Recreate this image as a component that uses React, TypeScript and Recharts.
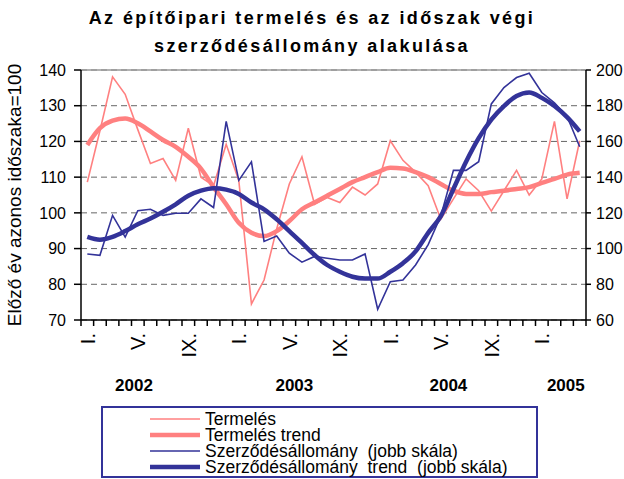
import React from 'react';
import { LineChart, Line, XAxis, YAxis, CartesianGrid, ReferenceLine } from 'recharts';

// 2002. I. – 2005. IV., havi adatok
const months = [
  'I.', 'II.', 'III.', 'IV.', 'V.', 'VI.', 'VII.', 'VIII.', 'IX.', 'X.', 'XI.', 'XII.',
  'I.', 'II.', 'III.', 'IV.', 'V.', 'VI.', 'VII.', 'VIII.', 'IX.', 'X.', 'XI.', 'XII.',
  'I.', 'II.', 'III.', 'IV.', 'V.', 'VI.', 'VII.', 'VIII.', 'IX.', 'X.', 'XI.', 'XII.',
  'I.', 'II.', 'III.', 'IV.',
];
const shownMonths = ['I.', 'V.', 'IX.'];
const yearLabels = ['2002', '2003', '2004', '2005'];
const yearTicks = [4.2, 16.9, 29.1, 38.4];

const termeles = [
  108.6, 123, 138.1, 133.2, 123.3, 113.8, 115.2, 109.1, 123.7, 110,
  107.6, 119.2, 109, 74.5, 81.2, 95.5, 108.1, 115.7, 102.4, 104.3,
  102.9, 107.2, 105, 108.1, 120.2, 114.7, 111.4, 107.6, 98.2, 103.9,
  109.5, 106.2, 100.5, 106.2, 111.9, 105, 109.5, 125.6, 103.9, 120.2,
];
const termelesTrend = [
  119, 123.7, 125.8, 126.4, 125.1, 122.8, 120.4, 118.5, 115.7, 112.4,
  107.2, 102.4, 97.2, 94.4, 93.5, 94.9, 97.7, 101, 102.9, 104.8,
  106.7, 108.6, 110, 111.4, 112.6, 112.4, 111.4, 110, 108.1, 106.2,
  105.3, 105.3, 105.8, 106.2, 106.7, 107.2, 108.4, 109.5, 110.7, 111.2,
];
const szerzodes = [
  97, 96.2, 118.6, 106.4, 121.2, 122, 118.6, 119.8, 119.8, 127.8,
  123, 171.2, 138.2, 148.6, 104, 107, 97.4, 92.4, 95.6, 94.6,
  93.6, 93.6, 97, 66, 81.4, 82.4, 90.8, 102.2, 118.2, 143.8,
  143.8, 148.6, 181, 190.2, 195.8, 198.2, 187.4, 181.6, 174, 157,
];
const szerzodesTrend = [
  106.6, 105, 106.6, 109.8, 113.6, 116.8, 120.6, 124.8, 129.6, 132.4,
  133.8, 133, 130.6, 125.8, 122, 116.4, 109.8, 103.2, 96.4, 90.8,
  87, 84.2, 83.2, 83.2, 87, 91.8, 98.4, 108.8, 118.2, 133.4,
  148.6, 161.8, 172.2, 179.8, 185.4, 187.4, 184.4, 179.8, 173.6, 165.6,
];
const leftTicks = [70, 80, 90, 100, 110, 120, 130, 140];
const rightTicks = [60, 80, 100, 120, 140, 160, 180, 200];

const FONT = '"Liberation Sans", Arial, sans-serif';
const PINK = '#FF8080';
const NAVY = '#333399';

const series = [
  { key: 'termeles', name: 'Termelés', color: PINK, width: 1.6, axis: 'left', type: 'linear' },
  { key: 'termelesTrend', name: 'Termelés trend', color: PINK, width: 4.5, axis: 'left', type: 'monotone' },
  { key: 'szerzodes', name: 'Szerződésállomány  (jobb skála)', color: NAVY, width: 1.6, axis: 'right', type: 'linear' },
  { key: 'szerzodesTrend', name: 'Szerződésállomány  trend  (jobb skála)', color: NAVY, width: 4.5, axis: 'right', type: 'monotone' },
];

const data = months.map((m, i) => ({
  x: i + 0.5,
  month: m,
  termeles: termeles[i],
  termelesTrend: termelesTrend[i],
  szerzodes: szerzodes[i],
  szerzodesTrend: szerzodesTrend[i],
}));

const monthTicks = months.map((m, i) => i + 0.5).filter((v, i) => shownMonths.includes(months[i]));
const boundaryTicks = Array.from({ length: months.length + 1 }, (_, i) => i);
const xTicks = [...boundaryTicks, ...monthTicks, ...yearTicks];

const XTick = ({ x, y, payload }: any) => {
  const v = payload.value;
  const yi = yearTicks.indexOf(v);
  if (yi >= 0) {
    return (
      <text x={x} y={y + 71} textAnchor="middle" fontFamily={FONT} fontWeight="bold" fontSize={17} fill="#000">
        {yearLabels[yi]}
      </text>
    );
  }
  if (Number.isInteger(v)) {
    return <line x1={x} y1={y} x2={x} y2={y + 6} stroke="#000" strokeWidth={1.5} />;
  }
  return (
    <text
      transform={`translate(${x},${y + 13}) rotate(-90)`}
      textAnchor="end"
      dy="0.36em"
      fontFamily={FONT}
      fontSize={20}
      fill="#000"
    >
      {months[Math.floor(v)]}
    </text>
  );
};

export default function App() {
  return (
    <div style={{ position: 'absolute', left: 0, top: 0, width: 624, height: 479, background: '#fff', fontFamily: FONT }}>
      <div
        style={{
          position: 'absolute', top: 4, left: 0, width: 624, textAlign: 'center',
          fontWeight: 'bold', fontSize: 18, letterSpacing: 2.4, lineHeight: '28px', color: '#000',
        }}
      >
        Az építőipari termelés és az időszak végi
        <br />
        szerződésállomány alakulása
      </div>
      <div style={{ position: 'absolute', left: 0, top: 0 }}>
        <LineChart width={624} height={400} data={data} margin={{ top: 70, right: 0, left: 0, bottom: 0 }}>
          <CartesianGrid yAxisId="left" vertical={false} stroke="#666" strokeDasharray="6 4" />
          <XAxis
            dataKey="x"
            type="number"
            domain={[0, months.length]}
            ticks={xTicks}
            interval={0}
            height={80}
            tickSize={0}
            tickMargin={0}
            tickLine={false}
            tick={<XTick />}
            axisLine={{ stroke: '#000', strokeWidth: 1.5 }}
          />
          <YAxis
            yAxisId="left"
            domain={[70, 140]}
            ticks={leftTicks}
            interval={0}
            width={81}
            tickSize={7}
            tickMargin={8}
            axisLine={{ stroke: '#000', strokeWidth: 1.5 }}
            tickLine={{ stroke: '#000', strokeWidth: 1.5 }}
            tick={{ fill: '#000', fontSize: 16, fontFamily: FONT }}
            label={{
              value: 'Előző év azonos időszaka=100',
              angle: -90,
              position: 'insideLeft',
              offset: 14,
              style: { textAnchor: 'middle', fontSize: 19, fill: '#000', fontFamily: FONT },
            }}
          />
          <YAxis
            yAxisId="right"
            orientation="right"
            domain={[60, 200]}
            ticks={rightTicks}
            interval={0}
            width={38}
            tickSize={5}
            tickMargin={5}
            axisLine={{ stroke: '#000', strokeWidth: 1.5 }}
            tickLine={{ stroke: '#000', strokeWidth: 1.5 }}
            tick={{ fill: '#000', fontSize: 16, fontFamily: FONT }}
          />
          <ReferenceLine yAxisId="left" y={140} stroke="#999" strokeWidth={1.5} />
          {series.map(s => (
            <Line
              key={s.key}
              yAxisId={s.axis}
              dataKey={s.key}
              name={s.name}
              type={s.type as any}
              stroke={s.color}
              strokeWidth={s.width}
              dot={false}
              activeDot={false}
              isAnimationActive={false}
            />
          ))}
        </LineChart>
      </div>
      <div
        style={{
          position: 'absolute', left: 101, top: 406, width: 437, height: 72, boxSizing: 'border-box',
          border: `2px solid ${NAVY}`, paddingTop: 3, background: '#fff',
        }}
      >
        {series.map(s => (
          <div key={s.key} style={{ display: 'flex', alignItems: 'center', height: 16, fontSize: 17.5, color: '#000', whiteSpace: 'pre' }}>
            <svg width={52} height={16} style={{ marginLeft: 47, marginRight: 3, flexShrink: 0 }}>
              <line x1={0} y1={8} x2={50} y2={8} stroke={s.color} strokeWidth={s.width} />
            </svg>
            <span style={{ lineHeight: '16px' }}>{s.name}</span>
          </div>
        ))}
      </div>
    </div>
  );
}
